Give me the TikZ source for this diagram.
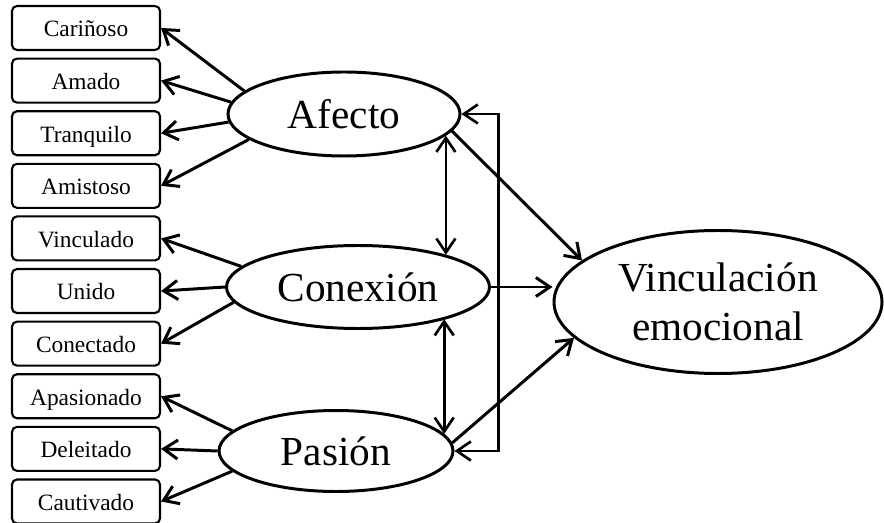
\documentclass[tikz,border=0pt]{standalone}
\usepackage{fontspec}
\setmainfont{Liberation Serif}
\usetikzlibrary{arrows.meta, positioning, shapes}

\begin{document}
\begin{tikzpicture}[
            node distance=0.13cm,
            item/.style={rectangle, rounded corners=0.1cm, draw, line width=1.2pt,
                         minimum width=2.96cm, minimum height=0.88cm, inner sep=0pt,
                         text height=12pt, text depth=2pt, font=\fontsize{13.3}{15}\selectfont},
            factor/.style={ellipse, draw, line width=1.7pt, inner sep=0pt,
                           font=\fontsize{23.5}{27.5}\selectfont},
            arrow/.style={-{Straight Barb[length=2.8mm, width=3.8mm]}, line width=1.7pt},
            both/.style={{Straight Barb[length=2.8mm, width=3.8mm]}-{Straight Barb[length=2.8mm, width=3.8mm]}, line width=1.5pt}
        ]
            \useasboundingbox (0,0) rectangle (17.68,-10.46);

            % indicators
            \node[item] at (1.72,-0.56) (carinoso) {Cariñoso};
            \node[item, below=of carinoso] (amado) {Amado};
            \node[item, below=of amado] (tranquilo) {Tranquilo};
            \node[item, below=of tranquilo] (amistoso) {Amistoso};
            \node[item, below=of amistoso] (vinculado) {Vinculado};
            \node[item, below=of vinculado] (unido) {Unido};
            \node[item, below=of unido] (conectado) {Conectado};
            \node[item, below=of conectado] (apasionado) {Apasionado};
            \node[item, below=of apasionado] (deleitado) {Deleitado};
            \node[item, below=of deleitado] (cautivado) {Cautivado};

            % factors
            \node[factor, minimum width=4.64cm, minimum height=1.68cm] (afecto) at (6.88,-2.28) {Afecto};
            \node[factor, minimum width=5.26cm, minimum height=1.66cm] (conexion) at (7.16,-5.74) {Conexión};
            \node[factor, minimum width=4.68cm, minimum height=1.62cm] (pasion) at (6.72,-9.02) {Pasión};
            \node[factor, minimum width=6.56cm, minimum height=2.86cm, align=center] (vinc) at (14.36,-6.04) {Vinculación\\emocional};

            \draw[arrow] (afecto.167) -- (carinoso.east);
            \draw[arrow] (afecto.174) -- (amado.east);
            \draw[arrow] (afecto.184) -- (tranquilo.east);
            \draw[arrow] (afecto.195) -- (amistoso.east);

            \draw[arrow] (conexion.170) -- (vinculado.east);
            \draw[arrow] (conexion.180) -- (unido.east);
            \draw[arrow] (conexion.187) -- (conectado.east);

            \draw[arrow] (pasion.169) -- (apasionado.east);
            \draw[arrow] (pasion.180) -- (deleitado.east);
            \draw[arrow] (pasion.191) -- (cautivado.east);

            % correlations
            \draw[both] (afecto.-12) -- (afecto.-12 |- conexion.20);
            \draw[both] (conexion.-20 -| pasion.9) -- (pasion.9);
            \draw[both] (afecto.east) -- ++(0.74,0) |- (pasion.east);

            \draw[arrow] (afecto.-9) -- (vinc.163);
            \draw[arrow] (conexion.east) -- (conexion.east -| vinc.west);
            \draw[arrow] (pasion.4) -- (vinc.194);
        \end{tikzpicture}
\end{document}
